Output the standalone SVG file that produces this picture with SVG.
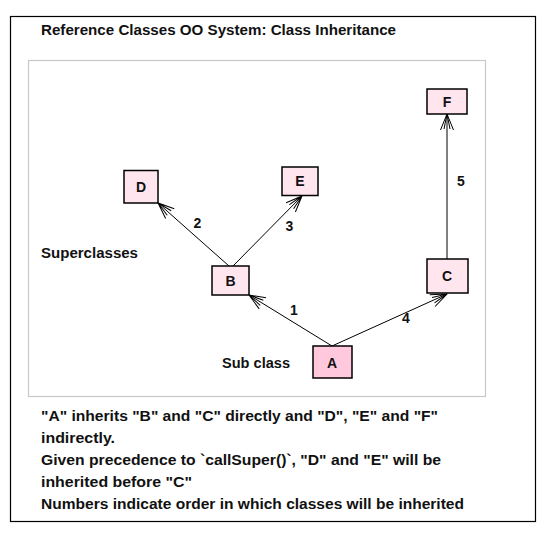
<svg xmlns="http://www.w3.org/2000/svg" width="543" height="534" viewBox="0 0 543 534">
<style>
.t{font-family:"Liberation Sans",Arial,sans-serif;font-weight:bold;font-size:14px;fill:#111}
.n{font-family:"Liberation Sans",Arial,sans-serif;font-weight:bold;font-size:14px;fill:#111;text-anchor:middle}
.box{fill:#ffe6ee;stroke:#000;stroke-width:1.5}
.boxA{fill:#ffc8dc;stroke:#000;stroke-width:1.5}
.edge{stroke:#000;stroke-width:1;fill:none;marker-end:url(#arr)}
</style>
<defs>
<marker id="arr" markerUnits="userSpaceOnUse" viewBox="-18 -9 20 18" refX="0" refY="0" markerWidth="20" markerHeight="18" orient="auto">
<path d="M-16,-6.5 L0,0 L-16,6.5 M-15,-3 L0,0 L-15,3" fill="none" stroke="#000" stroke-width="1"/>
</marker>
</defs>
<rect x="0" y="0" width="543" height="534" fill="#fff"/>
<rect x="10.5" y="16.5" width="525" height="505" fill="none" stroke="#000" stroke-width="1.2"/>
<rect x="28.5" y="60.5" width="457" height="336" fill="none" stroke="#c8c8c8" stroke-width="1.2"/>
<text class="t" x="41" y="35" textLength="355" lengthAdjust="spacingAndGlyphs">Reference Classes OO System: Class Inheritance</text>
<text class="t" x="41" y="258" textLength="97" lengthAdjust="spacingAndGlyphs">Superclasses</text>
<text class="t" x="222" y="368" textLength="68" lengthAdjust="spacingAndGlyphs">Sub class</text>
<g id="connectors">
<line class="edge" x1="332" y1="346" x2="249" y2="295"/>
<line class="edge" x1="332" y1="346" x2="447" y2="294"/>
<line class="edge" x1="229" y1="266" x2="158" y2="203"/>
<line class="edge" x1="233" y1="266" x2="302" y2="196"/>
<line class="edge" x1="447" y1="259" x2="447" y2="114"/>
<text class="n" x="294" y="315">1</text>
<text class="n" x="197.5" y="228">2</text>
<text class="n" x="289.5" y="231">3</text>
<text class="n" x="406" y="323">4</text>
<text class="n" x="461" y="186">5</text>
</g>
<g id="D"><rect class="box" x="124" y="170.5" width="34" height="32.5"/><text class="n" x="141" y="192">D</text></g>
<g id="E"><rect class="box" x="282" y="167" width="36" height="28.5"/><text class="n" x="300" y="186">E</text></g>
<g id="B"><rect class="box" x="212" y="266" width="37" height="29"/><text class="n" x="230.5" y="285.5">B</text></g>
<g id="C"><rect class="box" x="427" y="259" width="41" height="34"/><text class="n" x="447" y="281">C</text></g>
<g id="F"><rect class="box" x="427" y="89" width="40" height="25"/><text class="n" x="447" y="106.5">F</text></g>
<g id="A"><rect class="boxA" x="313" y="346" width="39" height="32"/><text class="n" x="332" y="367.5">A</text></g>
<text class="t" x="41" y="421" textLength="397" lengthAdjust="spacingAndGlyphs">"A" inherits "B" and "C" directly and "D", "E" and "F"</text>
<text class="t" x="41" y="443" textLength="74" lengthAdjust="spacingAndGlyphs">indirectly.</text>
<text class="t" x="41" y="465" textLength="400" lengthAdjust="spacingAndGlyphs">Given precedence to `callSuper()`, "D" and "E" will be</text>
<text class="t" x="41" y="487" textLength="151" lengthAdjust="spacingAndGlyphs">inherited before "C"</text>
<text class="t" x="41" y="509" textLength="423" lengthAdjust="spacingAndGlyphs">Numbers indicate order in which classes will be inherited</text>
</svg>
